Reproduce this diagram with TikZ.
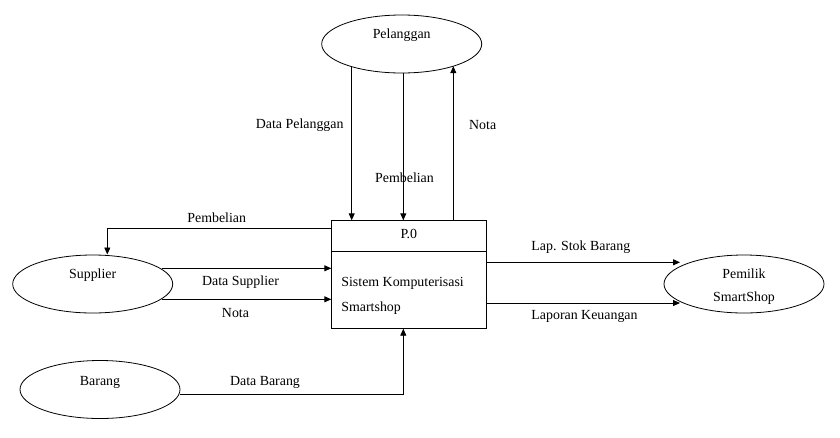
\documentclass[tikz,border=0pt]{standalone}
\usepackage{fontspec}
\setmainfont{Liberation Serif}
\usetikzlibrary{arrows.meta,shapes.geometric}
\tikzset{
  ent/.style={draw, ellipse, line width=0.8pt, minimum width=160pt, minimum height=58pt, inner sep=0pt},
  lbl/.style={inner sep=0pt, font=\fontsize{13.9pt}{15pt}\selectfont},
  flow/.style={line width=0.9pt, -{Triangle[length=7pt,width=6pt]}},
  proc/.style={draw, line width=0.8pt, minimum width=154.3pt, minimum height=107.6pt, inner sep=0pt}
}
\begin{document}
\begin{tikzpicture}[x=1pt,y=-1pt]
\useasboundingbox[fill=white] (0,0) rectangle (840,437);

% entities
\node[ent] (pel) at (401.7,44) {};
\node[lbl] (pelt) at (401.7,35.5) {Pelanggan};
\node[ent] (sup) at (92.7,284) {};
\node[lbl] (supt) at (92.7,275.5) {Supplier};
\node[ent] (pem) at (744,284) {};
\node[lbl] (pemt1) at (744,273.5) {Pemilik};
\node[lbl] (pemt2) at (744,298) {SmartShop};
\node[ent] (bar) at (100,389.5) {};
\node[lbl] (bart) at (100,382) {Barang};

% process
\node[proc] (box) at (408.85,274.5) {};
\coordinate (dl) at (331.7,251.7);
\coordinate (dr) at (486,251.7);
\draw[line width=0.8pt] (dl) -- (dr);
\node[lbl] (p0) at (408.85,233.5) {P.0};
\node[lbl, anchor=west] (s1) at (341.2,283.5) {Sistem Komputerisasi};
\node[lbl, anchor=west] (s2) at (341.2,307.7) {Smartshop};

% Pelanggan flows
\coordinate (a1) at (351.7,66.7);
\coordinate (a2) at (403.3,72.5);
\coordinate (a3) at (453.3,66.2);
\draw[flow] (a1) -- (a1 |- box.north);
\draw[flow] (a2) -- (a2 |- box.north);
\draw[flow] (a3 |- box.north) -- (a3);
\node[lbl] (l1) at (299.7,125) {Data Pelanggan};
\node[lbl] (l2) at (404.5,177.3) {Pembelian};
\node[lbl] (l3) at (482.7,125) {Nota};

% Pembelian to supplier
\coordinate (b1) at (331.7,228.3);
\coordinate (b2) at (107.3,228.3);
\coordinate (b3) at (107.3,254.5);
\draw[flow] (b1) -- (b2) -- (b3);
\node[lbl] (l4) at (216.7,217.5) {Pembelian};

% Supplier to process
\coordinate (c1) at (161.7,268.3);
\coordinate (c2) at (161.7,299.3);
\draw[flow] (c1) -- (c1 -| box.west);
\draw[flow] (c2) -- (c2 -| box.west);
\node[lbl] (l5) at (240.5,281.7) {Data Supplier};
\node[lbl] (l6) at (235.5,312.7) {Nota};

% Process to Pemilik
\coordinate (d1) at (680,262.3);
\coordinate (d2) at (680,303);
\draw[flow] (d1 -| box.east) -- (d1);
\draw[flow] (d2 -| box.east) -- (d2);
\node[lbl] (l7) at (580.8,246.7) {Lap. Stok Barang};
\node[lbl] (l8) at (584.5,316) {Laporan Keuangan};

% Barang to process
\coordinate (e1) at (180,394.3);
\coordinate (e2) at (403.3,394.3);
\draw[flow] (e1) -- (e2) -- (e2 |- box.south);
\node[lbl] (l9) at (265,382.3) {Data Barang};
\end{tikzpicture}
\end{document}
